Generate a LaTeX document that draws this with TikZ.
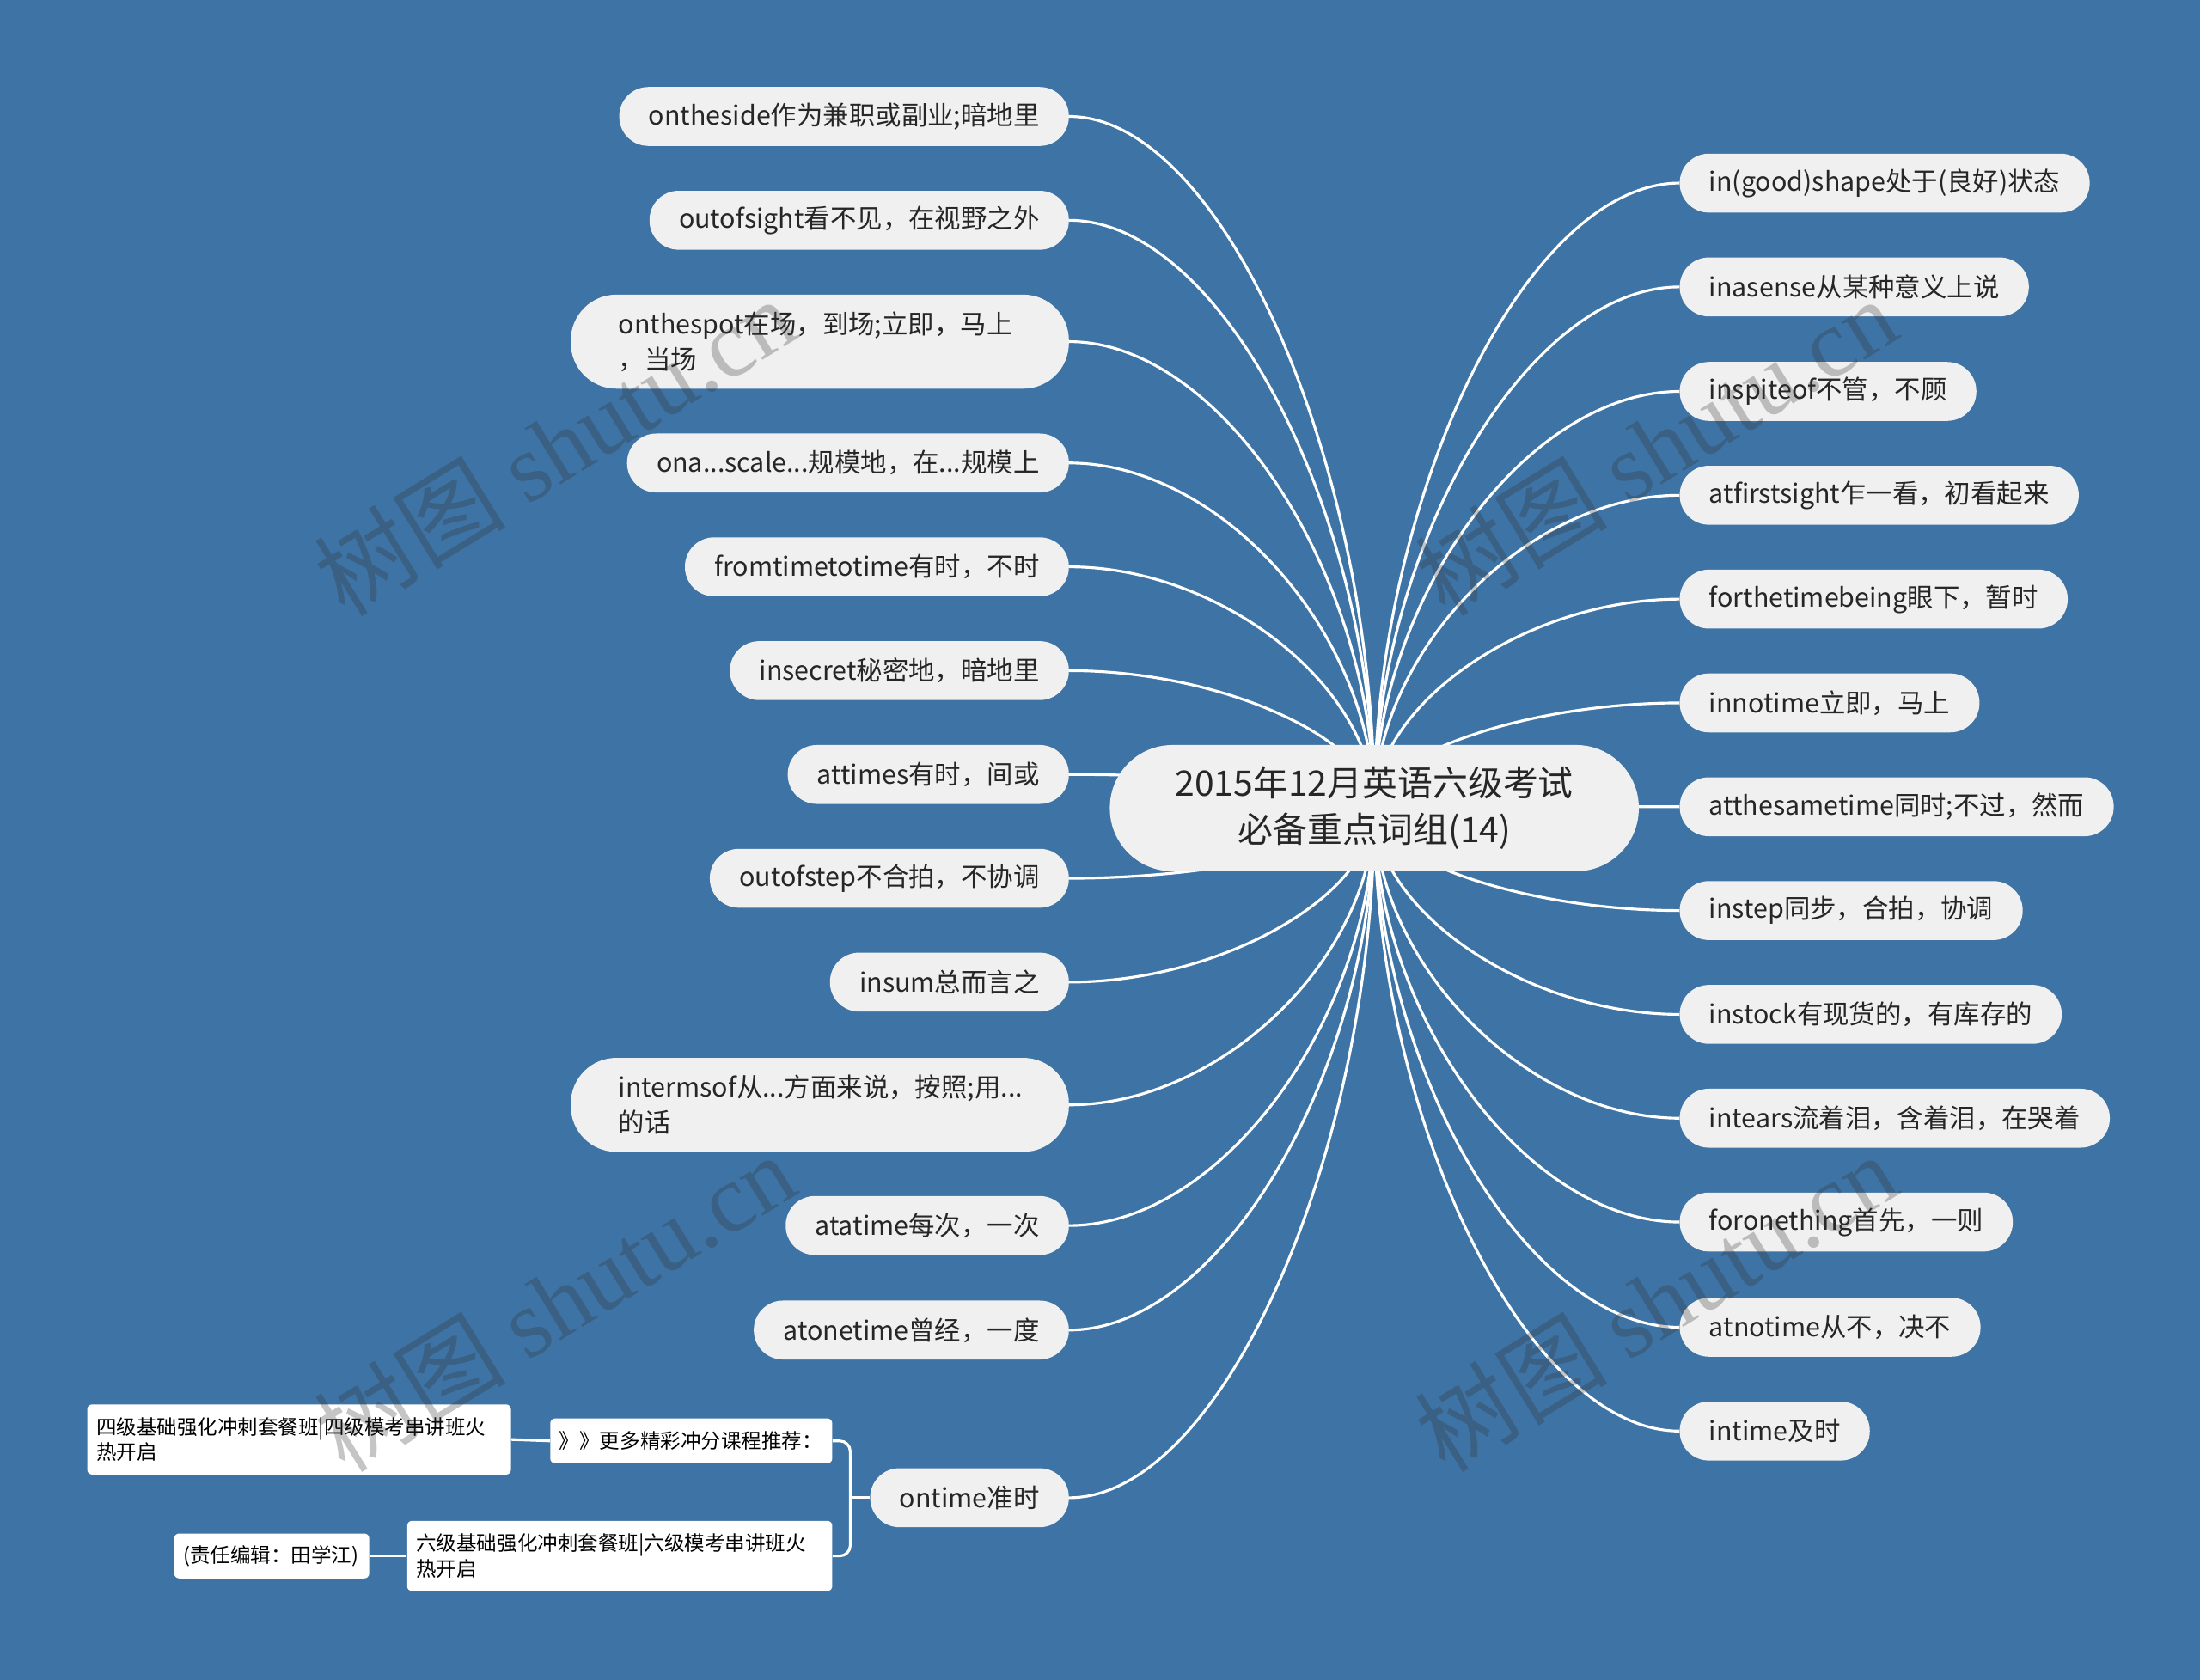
\documentclass[tikz,border=0pt]{standalone}
\usepackage{fontspec}
\setmainfont{Noto Sans CJK SC}
\newfontfamily\wmlatin{Liberation Serif}
\usetikzlibrary{calc}
\definecolor{bgblue}{RGB}{62,115,165}
\definecolor{nodefill}{RGB}{240,240,240}
\definecolor{txt}{RGB}{38,38,38}
\definecolor{wm}{RGB}{50,50,50}
\pgfdeclarelayer{bg}
\pgfsetlayers{bg,main}
\tikzset{
  leaf/.style={fill=nodefill, text=txt, font=\fontsize{21.2}{28.5}\selectfont,
    rounded corners=8.3mm, minimum height=16.8mm, inner xsep=8.4mm, inner ysep=0pt},
  leafL/.style={leaf, anchor=east},
  leafR/.style={leaf, anchor=west},
  leaftwo/.style={leaf, anchor=east, rounded corners=13mm, minimum height=26.8mm,
    inner xsep=13.6mm, text width=114.8mm, align=left},
  centre/.style={fill=nodefill, text=txt, font=\fontsize{28.5}{37.6}\selectfont,
    rounded corners=17.9mm, minimum width=150.8mm, minimum height=36mm, align=center, inner sep=0pt},
  sub/.style={fill=white, text=black, font=\fontsize{16.4}{20.5}\selectfont,
    rounded corners=1.4mm, anchor=west, inner xsep=2.6mm, inner ysep=0pt, align=left},
  conn/.style={draw=white, line width=2.2pt},
  wmark/.style={text=wm, opacity=0.28, rotate=31.6, font=\fontsize{78}{78}\selectfont, inner sep=0pt}
}
\newcommand\linkto[2]{\draw[conn] (#1.#2) .. controls ($(#1.#2)!0.5!(#1.#2 -| cc)$) and ($(cc)!0.5!(cc |- #1.#2)$) .. (cc);}
\begin{document}
\begin{tikzpicture}[x=0.4mm, y=-0.4mm]
\begin{pgfonlayer}{bg}
\fill[bgblue] (0,0) rectangle (1568,1197.4);
\end{pgfonlayer}
\useasboundingbox (0,0) rectangle (1568,1197.4);

% central
\node[centre] (c) at (979.5,576) {2015年12月英语六级考试\\必备重点词组(14)};
\coordinate (cc) at (979.5,576);

% left leaves
\node[leafL] (l1) at (762,83) {ontheside作为兼职或副业;暗地里};
\node[leafL] (l2) at (762,157) {outofsight看不见，在视野之外};
\node[leaftwo] (l3) at (762,243.5) {onthespot在场，到场;立即，马上\\，当场};
\node[leafL] (l4) at (762,330) {ona...scale...规模地，在...规模上};
\node[leafL] (l5) at (762,404) {fromtimetotime有时，不时};
\node[leafL] (l6) at (762,478) {insecret秘密地，暗地里};
\node[leafL] (l7) at (762,552) {attimes有时，间或};
\node[leafL] (l8) at (762,626) {outofstep不合拍，不协调};
\node[leafL] (l9) at (762,700) {insum总而言之};
\node[leaftwo] (l10) at (762,787.5) {intermsof从...方面来说，按照;用...\\的话};
\node[leafL] (l11) at (762,873.5) {atatime每次，一次};
\node[leafL] (l12) at (762,948) {atonetime曾经，一度};
\node[leafL] (l13) at (762,1067.5) {ontime准时};

% right leaves
\node[leafR] (r1) at (1197,130.5) {in(good)shape处于(良好)状态};
\node[leafR] (r2) at (1197,204.5) {inasense从某种意义上说};
\node[leafR] (r3) at (1197,279) {inspiteof不管，不顾};
\node[leafR] (r4) at (1197,353) {atfirstsight乍一看，初看起来};
\node[leafR] (r5) at (1197,427) {forthetimebeing眼下，暂时};
\node[leafR] (r6) at (1197,501) {innotime立即，马上};
\node[leafR] (r7) at (1197,575) {atthesametime同时;不过，然而};
\node[leafR] (r8) at (1197,649) {instep同步，合拍，协调};
\node[leafR] (r9) at (1197,723) {instock有现货的，有库存的};
\node[leafR] (r10) at (1197,797) {intears流着泪，含着泪，在哭着};
\node[leafR] (r11) at (1197,871) {foronething首先，一则};
\node[leafR] (r12) at (1197,946) {atnotime从不，决不};
\node[leafR] (r13) at (1197,1020) {intime及时};

% sub nodes of ontime
\node[sub, text width=75.2mm, minimum height=12.8mm] (more) at (392,1027) {》》更多精彩冲分课程推荐：};
\node[sub, text width=115.6mm, minimum height=20mm] (four) at (62,1026) {四级基础强化冲刺套餐班|四级模考串讲班火\\热开启};
\node[sub, text width=116mm, minimum height=20mm] (six) at (290,1109) {六级基础强化冲刺套餐班|六级模考串讲班火\\热开启};
\node[sub, text width=50.4mm, minimum height=12.8mm] (edit) at (124,1109) {(责任编辑：田学江)};
\coordinate (br) at (606,1067.5);

\begin{pgfonlayer}{bg}
\foreach \n in {l1,l2,l3,l4,l5,l6,l7,l8,l9,l10,l11,l12,l13} {\linkto{\n}{east}}
\foreach \n in {r1,r2,r3,r4,r5,r6,r7,r8,r9,r10,r11,r12,r13} {\linkto{\n}{west}}
\draw[conn, rounded corners=3mm] (more.east) -| (br) |- (six.east);
\draw[conn] (l13.west) -- (br);
\draw[conn] (four.east) -- (more.west);
\draw[conn] (edit.east) -- (six.west);
\end{pgfonlayer}

% watermarks
\node[wmark] (w1) at (395,318) {树图 {\wmlatin shutu.cn}};
\node[wmark] (w2) at (395,928) {树图 {\wmlatin shutu.cn}};
\node[wmark] (w3) at (1180,318) {树图 {\wmlatin shutu.cn}};
\node[wmark] (w4) at (1180,928) {树图 {\wmlatin shutu.cn}};
\end{tikzpicture}
\end{document}
